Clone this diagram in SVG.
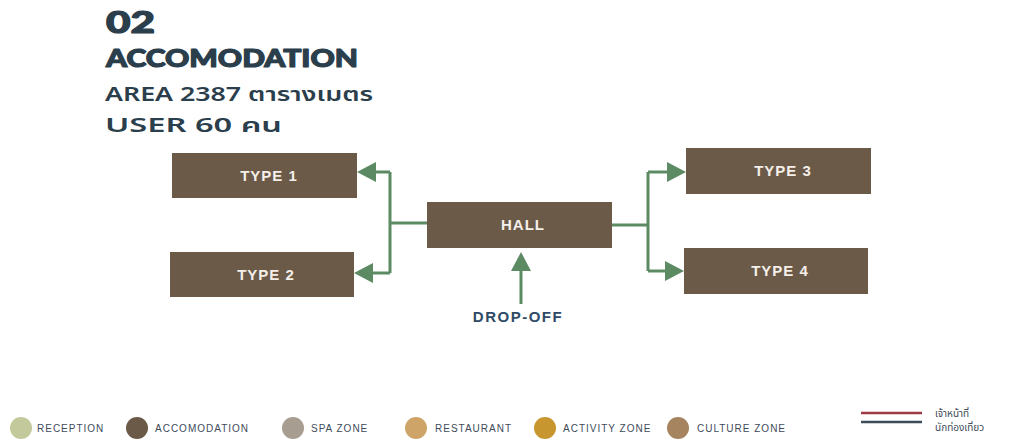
<svg xmlns="http://www.w3.org/2000/svg" width="1009" height="441" viewBox="0 0 1009 441">
<style>
.title{font-family:"Lato","Liberation Sans",sans-serif;font-weight:900;fill:#2B3E4C;stroke:#2B3E4C;stroke-width:1.2px;stroke-linejoin:round}
.sub{font-family:"Noto Sans","Noto Sans Thai","Liberation Sans",sans-serif;font-weight:600;fill:#2B3E4C}
.box{fill:#6B5A47}
.lbl{font-family:"Liberation Sans",sans-serif;font-weight:bold;font-size:15px;fill:#F4EFE9;text-anchor:middle;letter-spacing:1px}
.conn{fill:none;stroke:#5B8A63;stroke-width:3}
.leg{font-family:"Liberation Sans",sans-serif;font-size:10px;fill:#3E4B5A;letter-spacing:1px}
.legth{font-family:"Noto Sans","Noto Sans Thai",sans-serif;font-size:10px;fill:#3E4B5A}
</style>
<defs>
<marker id="arr" markerUnits="userSpaceOnUse" markerWidth="19" markerHeight="20" refX="0" refY="10" orient="auto">
<path d="M0,0 L19,10 L0,20 Z" fill="#5B8A63"/>
</marker>
</defs>
<rect width="1009" height="441" fill="#FFFFFF"/>
<g id="title">
<text class="title" x="106" y="33" font-size="30" textLength="49" lengthAdjust="spacingAndGlyphs">02</text>
<text class="title" x="106" y="67" font-size="25" textLength="252" lengthAdjust="spacingAndGlyphs">ACCOMODATION</text>
<text class="sub" x="105" y="101" font-size="20" textLength="268" lengthAdjust="spacingAndGlyphs">AREA 2387 ตารางเมตร</text>
<text class="sub" x="105" y="132" font-size="20" textLength="177" lengthAdjust="spacingAndGlyphs">USER 60 คน</text>
</g>
<g id="connectors">
<path class="conn" d="M427,223 H390 M390,172 V273"/>
<path class="conn" d="M390,172 H376" marker-end="url(#arr)"/>
<path class="conn" d="M390,273 H373" marker-end="url(#arr)"/>
<path class="conn" d="M612,225 H648 M648,172 V271"/>
<path class="conn" d="M648,172 H667" marker-end="url(#arr)"/>
<path class="conn" d="M648,271 H665" marker-end="url(#arr)"/>
<path class="conn" d="M521,304 V271" marker-end="url(#arr)"/>
</g>
<g id="type1">
<rect class="box" x="172" y="153" width="185" height="45"/>
<text class="lbl" x="269" y="181">TYPE 1</text>
</g>
<g id="type2">
<rect class="box" x="170" y="252" width="184" height="45"/>
<text class="lbl" x="266" y="280">TYPE 2</text>
</g>
<g id="hall">
<rect class="box" x="427" y="202" width="185" height="46"/>
<text class="lbl" x="523" y="230">HALL</text>
</g>
<g id="type3">
<rect class="box" x="686" y="148" width="185" height="46"/>
<text class="lbl" x="783" y="176">TYPE 3</text>
</g>
<g id="type4">
<rect class="box" x="684" y="248" width="184" height="46"/>
<text class="lbl" x="780" y="276">TYPE 4</text>
</g>
<g id="dropoff">
<text x="518" y="322" font-family="Liberation Sans, sans-serif" font-weight="bold" font-size="15" fill="#2E4A66" text-anchor="middle" letter-spacing="1.5">DROP-OFF</text>
</g>
<g id="legend">
<circle cx="21" cy="428" r="11" fill="#C3C99A"/>
<text class="leg" x="37" y="432">RECEPTION</text>
<circle cx="137" cy="428" r="11" fill="#6B5A47"/>
<text class="leg" x="155" y="432">ACCOMODATION</text>
<circle cx="293" cy="428" r="11" fill="#A89D91"/>
<text class="leg" x="311" y="432">SPA ZONE</text>
<circle cx="416" cy="428" r="11" fill="#CFA468"/>
<text class="leg" x="435" y="432">RESTAURANT</text>
<circle cx="545" cy="428" r="11" fill="#C8962F"/>
<text class="leg" x="563" y="432">ACTIVITY ZONE</text>
<circle cx="678" cy="428" r="11" fill="#A6845F"/>
<text class="leg" x="697" y="432">CULTURE ZONE</text>
<line x1="861" y1="413" x2="922" y2="413" stroke="#9E3A45" stroke-width="2.5"/>
<line x1="861" y1="422" x2="922" y2="422" stroke="#3D4B56" stroke-width="2.5"/>
<text class="legth" x="935" y="417">เจ้าหน้าที่</text>
<text class="legth" x="935" y="431">นักท่องเที่ยว</text>
</g>
</svg>
